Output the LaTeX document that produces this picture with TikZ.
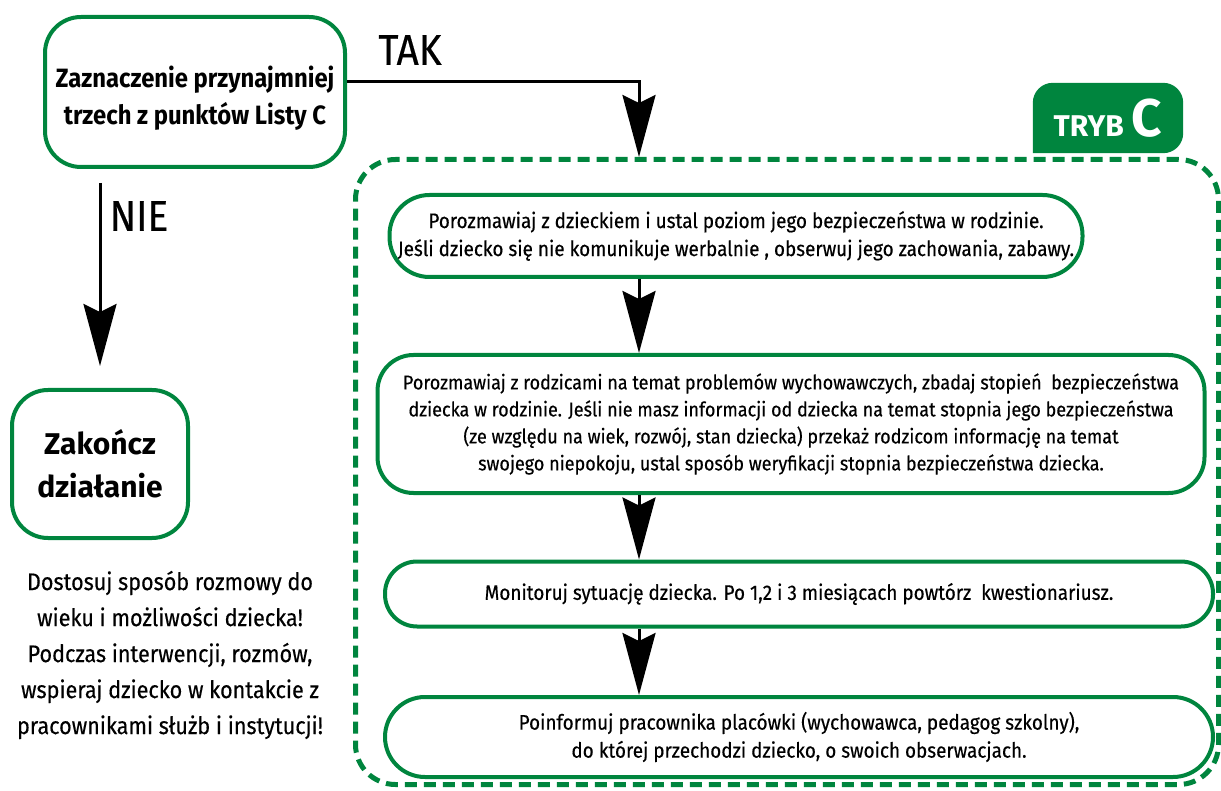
\documentclass[tikz,border=0pt]{standalone}
\usepackage{fontspec}
\setmainfont{Fira Sans}[FakeStretch=0.9, UprightFeatures={FakeBold=0.4}]
\newfontfamily\widefont{Fira Sans}
\usetikzlibrary{arrows.meta}
\usetikzlibrary{calc}
\usetikzlibrary{positioning}
\definecolor{trybgreen}{RGB}{0,133,62}

\begin{document}
\begin{tikzpicture}[x=1pt, y=-1pt,
        box/.style={draw=trybgreen, line width=4pt, rounded corners=36pt, align=center, inner sep=0pt,
            font=\fontsize{21}{28}\selectfont},
        arr/.style={line width=3pt, -{Stealth[length=62pt, width=33pt, inset=8pt]}},
        label/.style={font=\fontsize{43}{43}\selectfont}]
        \useasboundingbox (0,0) rectangle (1221,791);
        \coordinate (axis) at (639,0);

        \node[box, minimum width=300pt, minimum height=150pt, font=\fontsize{26.5}{37}\selectfont\bfseries] (start) at (195,92)
            {\rule{0pt}{34pt}Zaznaczenie przynajmniej\\trzech z punktów Listy C};
        \node[box, minimum width=176pt, minimum height=148pt, font=\widefont\fontsize{30}{43}\selectfont\bfseries] (end) at (100,464)
            {Zakończ\\działanie};
        \node[align=center, font=\fontsize{24}{36}\selectfont] (note) at (170,655)
            {Dostosuj sposób rozmowy do\\wieku i możliwości dziecka!\\Podczas interwencji, rozmów,\\wspieraj dziecko w kontakcie z\\pracownikami służb i instytucji!};

        \node[draw=trybgreen, line width=5pt, dash pattern=on 12pt off 7pt, rounded corners=40pt,
            minimum width=863pt, minimum height=625pt] (frame) at (787,472) {};
        \node[minimum width=150pt, minimum height=70pt, inner sep=0pt] (tab) at (1108,118) {};
        \fill[trybgreen] (tab.south west) [rounded corners=20pt] |- (tab.north) -| (tab.south east) [sharp corners] -- cycle;
        \node[text=white, font=\widefont\fontsize{30}{30}\selectfont\bfseries] at (tab) {TRYB\hspace{8pt}\fontsize{53}{53}\selectfont C};

        \node[box, rounded corners=40pt, minimum width=693pt, minimum height=82pt] (b1) at (736,236)
            {Porozmawiaj z dzieckiem i ustal poziom jego bezpieczeństwa w rodzinie.\\
             Jeśli dziecko się nie komunikuje werbalnie , obserwuj jego zachowania, zabawy.};
        \node[box, minimum width=827pt, minimum height=138pt, font=\fontsize{20}{27}\selectfont] (b2) at (791,424)
            {Porozmawiaj z rodzicami na temat problemów wychowawczych, zbadaj stopień\ \ bezpieczeństwa\\
             dziecka w rodzinie. Jeśli nie masz informacji od dziecka na temat stopnia jego bezpieczeństwa\\
             (ze względu na wiek, rozwój, stan dziecka) przekaż rodzicom informację na temat\\
             swojego niepokoju, ustal sposób weryfikacji stopnia bezpieczeństwa dziecka.};
        \node[box, rounded corners=32pt, minimum width=828pt, minimum height=65pt] (b3) at (799,594)
            {Monitoruj sytuację dziecka. Po 1,2 i 3 miesiącach powtórz\ \ kwestionariusz.};
        \node[box, rounded corners=40pt, minimum width=828pt, minimum height=80pt] (b4) at (799,737)
            {Poinformuj pracownika placówki (wychowawca, pedagog szkolny),\\
             do której przechodzi dziecko, o swoich obserwacjach.};

        \node[label] (tak) at (410,50) {TAK};
        \node[label] (nie) at (139,216) {NIE};

        \draw[arr] ([yshift=10pt]start.east) -| (frame.north -| axis);
        \draw[arr, shorten <=14pt, shorten >=22pt] (start.south -| end.north) -- (end.north);
        \draw[arr] (b1.south -| axis) -- (b2.north -| axis);
        \draw[arr] (b2.south -| axis) -- (b3.north -| axis);
        \draw[arr] (b3.south -| axis) -- (b4.north -| axis);
    \end{tikzpicture}
\end{document}
